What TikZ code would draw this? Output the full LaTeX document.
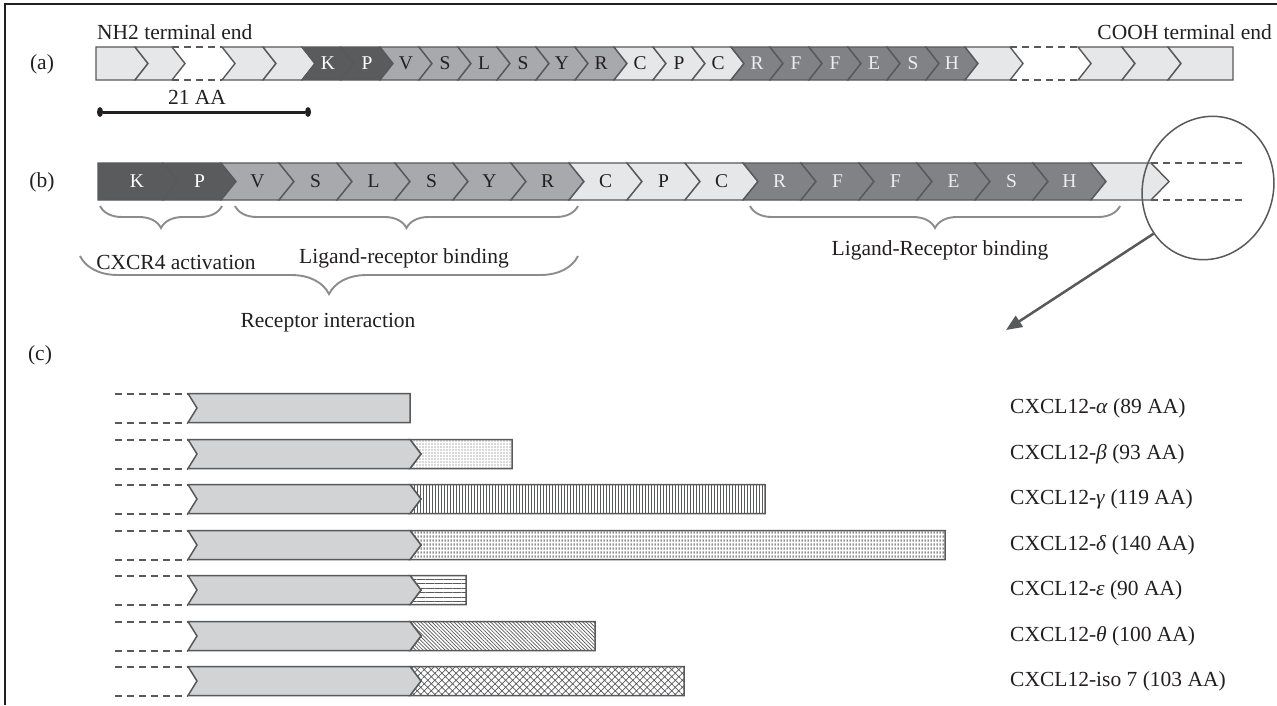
\documentclass[tikz,border=0pt]{standalone}
\usepackage{fontspec}
\setmainfont{Liberation Serif}
\usetikzlibrary{shapes.geometric,decorations.pathreplacing,patterns.meta,arrows.meta}
\definecolor{txt}{HTML}{231F20}
\definecolor{lite}{HTML}{E6E7E8}
\definecolor{med}{HTML}{A7A9AC}
\definecolor{drk}{HTML}{808285}
\definecolor{dk}{HTML}{5A5B5D}
\definecolor{edge}{HTML}{58595B}
\definecolor{cgray}{HTML}{D1D3D4}
\definecolor{brc}{HTML}{8A8C8E}
\definecolor{ltxt}{HTML}{EDEDEE}
\tikzdeclarepattern{name=vdash, type=uncolored, bounding box={(0pt,0pt) and (3pt,3.5pt)}, tile size={(3pt,3.5pt)}, code={\draw[line width=1.2pt] (1.5pt,0.3pt) -- (1.5pt,2.9pt);}}
\newcommand{\chev}[5]{%
  \filldraw[fill=#5,draw=edge,line width=1.4pt] (#1,\rowT) -- (#2,\rowT) -- ({#2+#4},\rowM) -- (#2,\rowB) -- (#1,\rowB) -- ({#1+#3},\rowM) -- cycle;}
\newcommand{\grayarr}[2]{%
  \filldraw[fill=cgray,draw=edge,line width=1.5pt] (188,{#1-14.5}) -- (410,{#1-14.5}) -- ({410+#2},#1) -- (410,{#1+14.5}) -- (188,{#1+14.5}) -- (197,#1) -- cycle;
  \draw[dsh] (115,{#1-14.5}) -- (188,{#1-14.5}) (115,{#1+14.5}) -- (188,{#1+14.5});}
\newcommand{\ext}[3]{%
  \draw[#3,draw=edge,line width=1.5pt] (410,{#1-14.5}) -- (#2,{#1-14.5}) -- (#2,{#1+14.5}) -- (410,{#1+14.5}) -- (421,#1) -- cycle;}
\begin{document}
\begin{tikzpicture}[x=1pt,y=-1pt,font=\fontsize{21.5}{25}\selectfont,
  lbl/.style={text=txt,inner sep=0pt},
  chl/.style={inner sep=0pt,font=\fontsize{19.5}{22}\selectfont},
  dsh/.style={edge,line width=2pt,dash pattern=on 7pt off 5pt},
  brace/.style={brc,line width=1.9pt,decorate,decoration={brace,mirror,amplitude=#1}},
  pb/.style={pattern={Dots[distance=3pt,radius=0.6pt]},pattern color=edge},
  pg/.style={pattern={Lines[angle=90,distance=3pt,line width=0.8pt]},pattern color=edge},
  pd/.style={pattern=vdash,pattern color=edge},
  pe/.style={pattern={Lines[angle=0,distance=4.5pt,line width=0.9pt]},pattern color=edge},
  pt/.style={pattern={Lines[angle=-45,distance=2.6pt,line width=0.7pt]},pattern color=edge},
  pi/.style={pattern={Hatch[angle=45,distance=5pt,line width=0.7pt]},pattern color=edge}]
\useasboundingbox (0,0) rectangle (1277,705);
\fill[white] (0,0) rectangle (1277,705);
\draw[txt,line width=2.8pt] (5,705) -- (5,4) -- (1277,4);
% ---------- row (a)
\node[lbl] (la) at (42,64) {(a)};
\node[lbl,anchor=west] (nh2) at (97,32) {NH2 terminal end};
\node[lbl,anchor=east] (cooh) at (1272,32) {COOH terminal end};
\def\rowT{47}\def\rowB{80}\def\rowM{63.5}
\chev{96}{135}{0}{13}{lite}
\chev{135}{172}{13}{13}{lite}
\draw[dsh] (172,47) -- (222,47) (172,80) -- (222,80);
\chev{222}{263}{13}{13}{lite}
\chev{263}{302}{13}{13}{lite}
\foreach \ltr/\cl/\tc [count=\i from 0] in {K/dk/white,P/dk/white,V/med/txt,S/med/txt,L/med/txt,S/med/txt,Y/med/txt,R/med/txt,C/lite/txt,P/lite/txt,C/lite/txt,R/drk/ltxt,F/drk/ltxt,F/drk/ltxt,E/drk/ltxt,S/drk/ltxt,H/drk/ltxt}{
  \pgfmathsetmacro\xa{302+39*\i}\pgfmathsetmacro\xb{\xa+39}
  \chev{\xa}{\xb}{13}{13}{\cl}
  \node[chl,text=\tc] (a\i) at ({\xa+26},63.5) {\ltr};
}
\chev{965}{1010}{13}{13}{lite}
\draw[dsh] (1010,47) -- (1078,47) (1010,80) -- (1078,80);
\chev{1078}{1122}{13}{13}{lite}
\chev{1122}{1168}{13}{13}{lite}
\chev{1168}{1233}{13}{0}{lite}
% scale bar
\node[lbl] (aa) at (197,97) {21 AA};
\node[fill=txt,ellipse,minimum width=6pt,minimum height=10pt,inner sep=0pt] (s1) at (100,112) {};
\node[fill=txt,ellipse,minimum width=6pt,minimum height=10pt,inner sep=0pt] (s2) at (308,112) {};
\draw[txt,line width=3pt] (s1) -- (s2);
% ---------- row (b)
\node[lbl] (lb) at (42,182) {(b)};
\def\rowT{163}\def\rowB{200}\def\rowM{181.5}
\chev{98}{163}{0}{15}{dk}
\node[chl,text=white] (b0) at (137,181.5) {K};
\foreach \ltr/\cl/\tc [count=\i from 1] in {P/dk/white,V/med/txt,S/med/txt,L/med/txt,S/med/txt,Y/med/txt,R/med/txt,C/lite/txt,P/lite/txt,C/lite/txt,R/drk/ltxt,F/drk/ltxt,F/drk/ltxt,E/drk/ltxt,S/drk/ltxt,H/drk/ltxt}{
  \pgfmathsetmacro\xa{163+58*(\i-1)}\pgfmathsetmacro\xb{\xa+58}
  \chev{\xa}{\xb}{15}{15}{\cl}
  \node[chl,text=\tc] (b\i) at ({\xa+36.5},181.5) {\ltr};
}
\chev{1091}{1151}{15}{18}{lite}
\draw[dsh] (1151,163) -- (1245,163) (1151,200) -- (1245,200);
% braces
\draw[brace=22pt] (100,206) -- (222,206);
\draw[brace=22pt] (235,206) -- (578,206);
\draw[brace=38pt] (80,256) -- (578,256);
\draw[brace=22pt] (750,206) -- (1120,206);
\node[lbl] (cx) at (176,262) {CXCR4 activation};
\node[lbl] (lrb) at (404,258) {Ligand-receptor binding};
\node[lbl] (ri) at (328,323) {Receptor interaction};
\node[lbl] (lRb) at (940,250) {Ligand-Receptor binding};
% zoom ellipse and arrow
\node[ellipse,draw=edge,line width=1.5pt,minimum width=130pt,minimum height=145pt,inner sep=0pt,rotate=-20] (zoom) at (1208,188) {};
\coordinate (tip) at (1006,330);
\draw[edge,line width=2.5pt,-{Triangle[length=16pt,width=13pt]}] (zoom.240) -- (tip);
% ---------- row (c)
\node[lbl] (lc) at (40,355) {(c)};
\grayarr{408}{0}
\ext{454}{512}{pb}\grayarr{454}{11}
\ext{499}{765}{pg}\grayarr{499}{11}
\ext{545}{945}{pd}\grayarr{545}{11}
\ext{590}{466}{pe}\grayarr{590}{11}
\ext{636}{595}{pt}\grayarr{636}{11}
\ext{681}{684}{pi}\grayarr{681}{11}
\node[lbl,anchor=west] (c1) at (1010,408) {CXCL12-\textit{α} (89 AA)};
\node[lbl,anchor=west] (c2) at (1010,454) {CXCL12-\textit{β} (93 AA)};
\node[lbl,anchor=west] (c3) at (1010,499) {CXCL12-\textit{γ} (119 AA)};
\node[lbl,anchor=west] (c4) at (1010,545) {CXCL12-\textit{δ} (140 AA)};
\node[lbl,anchor=west] (c5) at (1010,590) {CXCL12-\textit{ε} (90 AA)};
\node[lbl,anchor=west] (c6) at (1010,636) {CXCL12-\textit{θ} (100 AA)};
\node[lbl,anchor=west] (c7) at (1010,681) {CXCL12-iso 7 (103 AA)};
\end{tikzpicture}
\end{document}
